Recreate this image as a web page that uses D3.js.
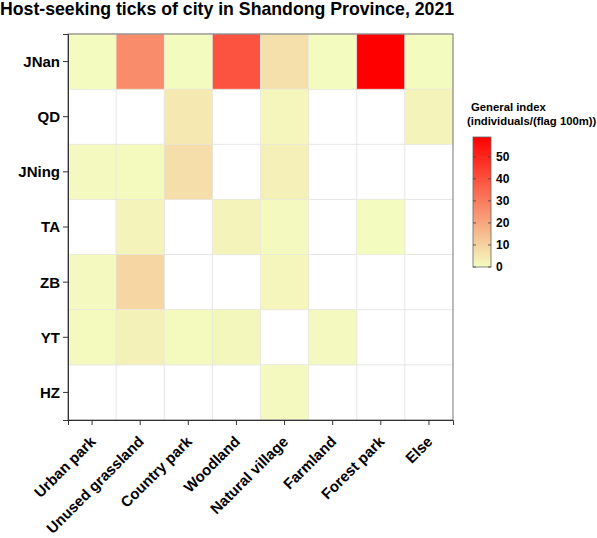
<!DOCTYPE html>
<html lang="en">
<head>
  <meta charset="UTF-8">
  <title>Host-seeking ticks heatmap</title>
  <script src="https://d3js.org/d3.v7.min.js"></script>
  <style>
    body { margin: 0; background: #fff; }
    text { font-family: "Liberation Sans", Arial, sans-serif; font-weight: bold; fill: #000; }
  </style>
</head>
<body>
<div class="main"></div>
<script>
  // data (null = no sample)
  var cities = ["JNan", "QD", "JNing", "TA", "ZB", "YT", "HZ"];
  var habitats = ["Urban park", "Unused grassland", "Country park", "Woodland", "Natural village", "Farmland", "Forest park", "Else"];
  var jnan  = [0.3, 26, 0.3, 39.5, 6.5, 0.3, 59, 0.3];
  var qd    = [null, null, 4.5, null, 1.5, null, null, 1.8];
  var jning = [0.4, 0.6, 7, null, 2.8, null, null, null];
  var ta    = [null, 2, null, 2.2, 0.4, null, 0.3, null];
  var zb    = [0.4, 9, null, null, 1.5, null, null, null];
  var yt    = [0.5, 2.5, 0.7, 1.2, null, 0.4, null, null];
  var hz    = [null, null, null, null, 0.4, null, null, null];
  var legendTicks = [0, 10, 20, 30, 40, 50];

  var rows = [jnan, qd, jning, ta, zb, yt, hz];
  var cells = [];
  rows.forEach(function(r, i) {
    r.forEach(function(v, j) {
      cells.push({city: cities[i], habitat: habitats[j], value: v});
    });
  });

  var width = 597, height = 538;
  var svg = d3.select(".main").append("svg").attr("width", width).attr("height", height);

  var pLeft = 68, pRight = 453, pTop = 34, pBottom = 420;

  var x = d3.scaleBand().domain(habitats).range([pLeft, pRight]);
  var y = d3.scaleBand().domain(cities).range([pTop, pBottom]);
  var vmax = d3.max(cells, function(d) { return d.value; });
  var color = d3.scaleLinear().domain([0, vmax]).range(["#f4fcc0", "#ff0000"]).interpolate(d3.interpolateRgb);

  // title
  svg.append("text").attr("x", 0).attr("y", 15).style("font-size", "17.7px")
    .text("Host-seeking ticks of city in Shandong Province, 2021");

  // grid lines at cell borders
  var g = svg.append("g");
  habitats.forEach(function(h) {
    g.append("line").attr("x1", x(h)).attr("x2", x(h)).attr("y1", pTop).attr("y2", pBottom)
      .style("stroke", "#e6e6e6").style("stroke-width", 1);
  });
  cities.forEach(function(c) {
    g.append("line").attr("x1", pLeft).attr("x2", pRight).attr("y1", y(c)).attr("y2", y(c))
      .style("stroke", "#e6e6e6").style("stroke-width", 1);
  });

  // tiles
  svg.append("g").selectAll("rect")
    .data(cells.filter(function(d) { return d.value !== null; }))
    .join("rect")
    .attr("x", function(d) { return x(d.habitat); })
    .attr("y", function(d) { return y(d.city); })
    .attr("width", x.bandwidth())
    .attr("height", y.bandwidth())
    .style("fill", function(d) { return color(d.value); })
    .style("stroke", "#e8e8e0").style("stroke-width", 0.6);

  // panel border
  svg.append("rect").attr("x", pLeft).attr("y", pTop).attr("width", pRight - pLeft).attr("height", pBottom - pTop)
    .style("fill", "none").style("stroke", "#777").style("stroke-width", 1);

  // axes
  var yAxis = svg.append("g").attr("transform", "translate(" + pLeft + ",0)")
    .call(d3.axisLeft(y).tickSize(5).tickPadding(3));
  yAxis.select(".domain").style("stroke", "#333");
  yAxis.selectAll(".tick line").style("stroke", "#333");
  yAxis.selectAll("text").style("font-size", "15px").attr("dy", "0.36em");

  var xAxis = svg.append("g").attr("transform", "translate(0," + pBottom + ")")
    .call(d3.axisBottom(x).tickSize(5).tickPadding(2));
  xAxis.select(".domain").style("stroke", "#333");
  xAxis.selectAll(".tick line").style("stroke", "#333");
  xAxis.selectAll("text")
    .style("font-size", "15px")
    .style("text-anchor", "end")
    .attr("x", 0).attr("y", 0).attr("dy", "0.71em")
    .attr("transform", "translate(-3,15) rotate(-45)");

  // legend
  var lg = svg.append("g");
  lg.append("text").attr("x", 471).attr("y", 111).style("font-size", "11.3px").text("General index");
  lg.append("text").attr("x", 467).attr("y", 125).style("font-size", "11.3px").text("(individuals/(flag 100m))");

  var ly = d3.scaleLinear().domain([0, vmax]).range([267, 137]);
  var grad = svg.append("defs").append("linearGradient").attr("id", "lgrad")
    .attr("x1", 0).attr("y1", 1).attr("x2", 0).attr("y2", 0);
  d3.range(0, 11).forEach(function(i) {
    grad.append("stop").attr("offset", i / 10).attr("stop-color", color(vmax * i / 10));
  });
  var barX = 473, barW = 18;
  lg.append("rect").attr("x", barX).attr("y", ly(vmax)).attr("width", barW).attr("height", ly(0) - ly(vmax))
    .style("fill", "url(#lgrad)").style("stroke", "#666").style("stroke-width", 0.8);
  legendTicks.forEach(function(t) {
    lg.append("line").attr("x1", barX).attr("x2", barX + 3).attr("y1", ly(t)).attr("y2", ly(t))
      .style("stroke", "#444").style("stroke-width", 0.8);
    lg.append("line").attr("x1", barX + barW - 3).attr("x2", barX + barW).attr("y1", ly(t)).attr("y2", ly(t))
      .style("stroke", "#444").style("stroke-width", 0.8);
    lg.append("text").attr("x", 496).attr("y", ly(t)).attr("dy", "0.36em").style("font-size", "12px").text(t);
  });
</script>
</body>
</html>
